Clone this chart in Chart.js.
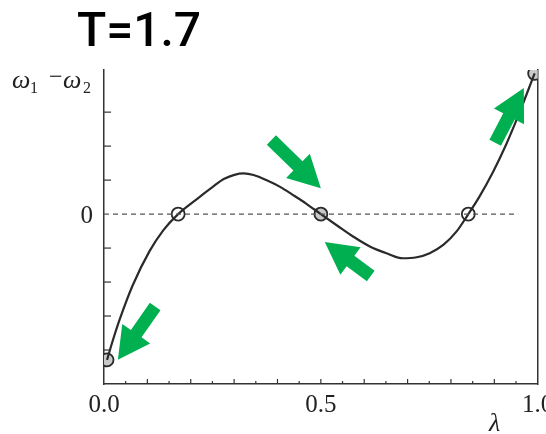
<!DOCTYPE html>
<html>
<head>
<meta charset="utf-8">
<script src="https://cdn.jsdelivr.net/npm/chart.js@4/dist/chart.umd.min.js"></script>
<style>
  body { margin: 0; background: #fff; }
  #wrap { width: 546px; height: 434px; position: relative; }
</style>
</head>
<body>
<div id="wrap"><canvas id="phase"></canvas></div>
<script>
// curve: lambda -> omega1 - omega2 (one unit = one y tick)
const lambdaVals = [0.007, 0.021, 0.037, 0.066, 0.105, 0.137, 0.171, 0.212, 0.253, 0.276, 0.322,
  0.345, 0.374, 0.406, 0.436, 0.466, 0.5, 0.539, 0.578, 0.614, 0.653, 0.689, 0.721, 0.751,
  0.783, 0.813, 0.84, 0.865, 0.897, 0.927, 0.954, 0.993];
const omegaDiff = [-4.29, -3.69, -3.07, -2.1, -1.09, -0.47, 0, 0.42, 0.82, 1.03, 1.2,
  1.15, 1.0, 0.8, 0.56, 0.31, 0, -0.35, -0.69, -0.96, -1.16, -1.3, -1.27, -1.15,
  -0.9, -0.51, 0, 0.5, 1.24, 2.04, 2.86, 4.14];

// fixed points
const stableX = [0.007, 0.5, 0.993];
const stableY = [-4.29, 0, 4.14];
const unstableX = [0.171, 0.84];
const unstableY = [0, 0];

// green arrows (tip / tail in data units)
const arrowTipX = [0.032, 0.5, 0.509, 0.968];
const arrowTipY = [-4.29, 0.76, -0.82, 3.71];
const arrowTailX = [0.118, 0.386, 0.615, 0.902];
const arrowTailY = [-2.72, 2.18, -1.82, 2.10];

const xTickLabels = ["0.0", "0.5", "1.0"];
const xTickVals = [0, 0.5, 1.0];
const yTickVals = [-4, -3, -2, -1, 1, 2, 3];

const toPoints = (xs, ys) => xs.map((x, i) => ({ x: x, y: ys[i] }));

// inward ticks, labels, arrows and titles
const decorations = {
  id: "decorations",
  afterDatasetsDraw(chart) {
    const ctx = chart.ctx;
    const xs = chart.scales.x;
    const ys = chart.scales.y;
    const area = chart.chartArea;
    ctx.save();

    // x ticks every 0.05, long ones at 0.1
    ctx.strokeStyle = "#333";
    ctx.lineWidth = 1.2;
    for (let k = 1; k < 20; k++) {
      const px = xs.getPixelForValue(k * 0.05);
      const len = k % 2 === 0 ? 5 : 3;
      ctx.beginPath();
      ctx.moveTo(px, area.bottom);
      ctx.lineTo(px, area.bottom - len);
      ctx.stroke();
    }
    // y ticks
    yTickVals.forEach((v) => {
      const py = ys.getPixelForValue(v);
      ctx.beginPath();
      ctx.moveTo(area.left, py);
      ctx.lineTo(area.left + 7, py);
      ctx.stroke();
    });

    // arrows
    ctx.fillStyle = "#00b050";
    for (let i = 0; i < arrowTipX.length; i++) {
      const tx = xs.getPixelForValue(arrowTipX[i]);
      const ty = ys.getPixelForValue(arrowTipY[i]);
      const sx = xs.getPixelForValue(arrowTailX[i]);
      const sy = ys.getPixelForValue(arrowTailY[i]);
      const len = Math.hypot(tx - sx, ty - sy);
      const ux = (tx - sx) / len, uy = (ty - sy) / len;
      const nx = -uy, ny = ux;
      const headLen = 32, headW = 17, shaftW = 6.5;
      const bx = tx - ux * headLen, by = ty - uy * headLen;
      ctx.beginPath();
      ctx.moveTo(sx + nx * shaftW, sy + ny * shaftW);
      ctx.lineTo(bx + nx * shaftW, by + ny * shaftW);
      ctx.lineTo(bx + nx * headW, by + ny * headW);
      ctx.lineTo(tx, ty);
      ctx.lineTo(bx - nx * headW, by - ny * headW);
      ctx.lineTo(bx - nx * shaftW, by - ny * shaftW);
      ctx.lineTo(sx - nx * shaftW, sy - ny * shaftW);
      ctx.closePath();
      ctx.fill();
    }

    // tick labels
    ctx.fillStyle = "#222";
    ctx.font = "25px 'Liberation Serif', serif";
    ctx.textAlign = "center";
    ctx.textBaseline = "alphabetic";
    xTickVals.forEach((v, i) => {
      ctx.fillText(xTickLabels[i], xs.getPixelForValue(v), area.bottom + 28);
    });
    ctx.textAlign = "right";
    ctx.fillText("0", area.left - 11, ys.getPixelForValue(0) + 9);

    // axis titles
    ctx.textAlign = "left";
    ctx.font = "italic 26px 'Liberation Serif', serif";
    ctx.fillText("\u03bb", 489, 431);
    const base = 88;
    ctx.font = "italic 26px 'Liberation Serif', serif";
    ctx.fillText("\u03c9", 12, base);
    ctx.fillText("\u03c9", 63, base);
    ctx.font = "16px 'Liberation Serif', serif";
    ctx.fillText("1", 30, base + 5);
    ctx.fillText("2", 83, base + 5);
    ctx.font = "24px 'Liberation Serif', serif";
    ctx.fillText("\u2212", 49, base - 4);

    // headline
    ctx.fillStyle = "#000";
    ctx.font = "500 48px Roboto, sans-serif";
    ctx.fillText("T=1.7", 77, 46);
    ctx.restore();
  },
};

const flatX = (s) => { s.height = 0; };
const flatY = (s) => { s.width = 0; };
const hiddenTicks = { display: false, padding: 0 };
const noGrid = { display: false, drawTicks: false, tickLength: 0 };
const axisLine = { display: true, color: "#333", width: 1.5 };

const ctx = document.getElementById("phase").getContext("2d");
new Chart(ctx, {
  type: "line",
  data: {
    datasets: [
      {
        label: "zero",
        data: [{ x: 0, y: 0 }, { x: 0.955, y: 0 }],
        borderColor: "#555",
        borderWidth: 1.3,
        borderDash: [5, 4],
        pointRadius: 0,
      },
      {
        label: "curve",
        data: toPoints(lambdaVals, omegaDiff),
        borderColor: "#2a2a2a",
        borderWidth: 2.2,
        cubicInterpolationMode: "monotone",
        pointRadius: 0,
      },
      {
        label: "unstable",
        data: toPoints(unstableX, unstableY),
        showLine: false,
        pointRadius: 6.5,
        pointBorderWidth: 1.8,
        pointBorderColor: "#2a2a2a",
        pointBackgroundColor: "#fff",
      },
      {
        label: "stable",
        data: toPoints(stableX, stableY),
        showLine: false,
        pointRadius: 6.5,
        pointBorderWidth: 1.8,
        pointBorderColor: "#2a2a2a",
        pointBackgroundColor: "#c9c9c9",
      },
    ],
  },
  options: {
    responsive: true,
    maintainAspectRatio: false,
    animation: false,
    layout: { padding: { left: 104, right: 4, top: 70, bottom: 50 } },
    plugins: { legend: { display: false }, tooltip: { enabled: false } },
    scales: {
      x: {
        type: "linear", min: 0, max: 1,
        ticks: hiddenTicks, grid: noGrid, border: axisLine, afterFit: flatX,
      },
      y: {
        type: "linear", min: -5, max: 4.24,
        ticks: hiddenTicks, grid: noGrid, border: axisLine, afterFit: flatY,
      },
      y2: {
        type: "linear", position: "right", min: -5, max: 4.24,
        ticks: hiddenTicks, grid: noGrid, border: axisLine, afterFit: flatY,
      },
    },
  },
  plugins: [decorations],
});
</script>
</body>
</html>
